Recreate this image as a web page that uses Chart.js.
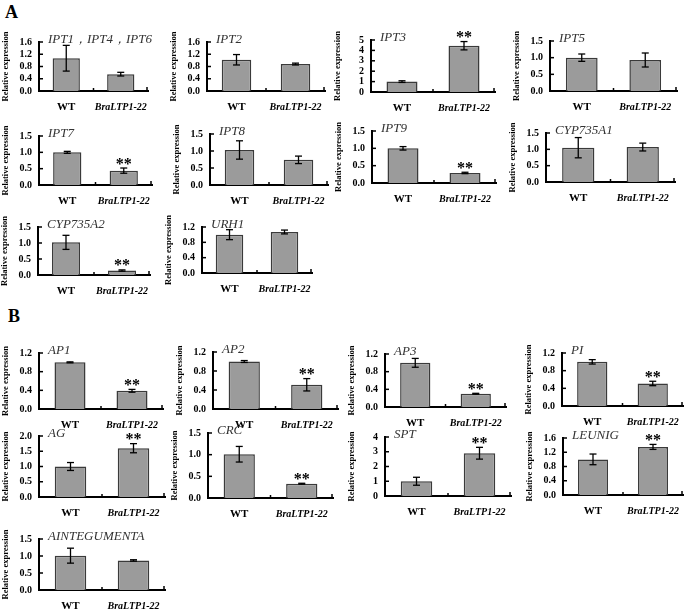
<!DOCTYPE html>
<html>
<head>
<meta charset="utf-8">
<script src="https://cdn.jsdelivr.net/npm/chart.js@4"></script>
<style>
  body { margin: 0; background: #fff; }
  #fig { position: relative; width: 687px; height: 612px; overflow: hidden; }
  #fig canvas { position: absolute; }
  .letter { position: absolute; font: bold 18px "Liberation Serif", serif; color: #000; }
</style>
</head>
<body>
<div id="fig">
  <div class="letter" style="left:5px;top:2px">A</div>
  <div class="letter" style="left:8px;top:306px">B</div>
</div>
<script>
const categories = ['WT', 'BraLTP1-22'];
const genes = ['IPT1，IPT4，IPT6', 'IPT2', 'IPT3', 'IPT5', 'IPT7', 'IPT8', 'IPT9', 'CYP735A1',
  'CYP735A2', 'URH1', 'AP1', 'AP2', 'AP3', 'PI', 'AG', 'CRC', 'SPT', 'LEUNIG', 'AINTEGUMENTA'];
const wtMeans   = [1.07, 1.02, 1.0, 1.0, 1.0, 1.03, 1.0, 1.05, 1.02, 1.0, 1.0, 1.0, 1.0, 1.0, 1.0, 1.01, 1.0, 1.0, 1.01];
const wtErrors  = [0.42, 0.17, 0.08, 0.11, 0.03, 0.27, 0.05, 0.31, 0.22, 0.13, 0.01, 0.02, 0.1, 0.05, 0.13, 0.18, 0.27, 0.15, 0.22];
const mutMeans  = [0.55, 0.88, 4.45, 0.93, 0.44, 0.74, 0.29, 1.07, 0.14, 1.07, 0.39, 0.51, 0.3, 0.51, 1.6, 0.33, 2.9, 1.35, 0.87];
const mutErrors = [0.06, 0.03, 0.4, 0.21, 0.08, 0.11, 0.02, 0.12, 0.02, 0.05, 0.03, 0.13, 0.01, 0.05, 0.15, 0.01, 0.4, 0.07, 0.02];
const significant = [false, false, true, false, true, false, true, false, true, false,
  true, true, true, true, true, true, true, true, false];
const yMaxes  = [1.6, 1.6, 5, 1.5, 1.5, 1.5, 1.5, 1.5, 1.5, 1.2, 1.2, 1.2, 1.2, 1.2, 2.0, 1.5, 4, 1.6, 1.5];
const ySteps  = [0.4, 0.4, 1, 0.5, 0.5, 0.5, 0.5, 0.5, 0.5, 0.4, 0.4, 0.4, 0.4, 0.4, 0.5, 0.5, 1, 0.4, 0.5];

// plot area of each panel: axis x, top, right end, bottom (px)
const boxes = [
  [39, 42, 148, 91], [207, 42, 325, 91], [371, 40, 495, 92], [550, 41, 677, 91],
  [39, 136, 152, 185], [210, 134, 328, 185], [372, 131, 496, 183], [546, 133, 675, 182],
  [38, 227, 150, 275], [202, 227, 312, 273],
  [39, 353, 163, 409], [213, 352, 338, 409], [385, 354, 506, 407], [562, 353, 683, 406],
  [39, 436, 165, 497], [208, 433, 333, 498], [385, 437, 511, 496], [563, 438, 683, 495],
  [39, 539, 165, 590]
];

const SERIF = '"Liberation Serif", "Times New Roman", serif';
const PAD_L = 40, PAD_T = 14, PAD_R = 6, PAD_B = 26;

const marks = {
  id: 'marks',
  afterDatasetsDraw(chart, args, o) {
    const { ctx, chartArea: a, scales: { x, y } } = chart;
    ctx.save();
    ctx.strokeStyle = '#000';
    ctx.lineWidth = 1.3;
    const seg = (x1, y1, x2, y2) => { ctx.beginPath(); ctx.moveTo(x1, y1); ctx.lineTo(x2, y2); ctx.stroke(); };
    o.means.forEach((m, i) => {
      const cx = x.getPixelForValue(i);
      const t = y.getPixelForValue(m + o.errors[i]);
      const b = y.getPixelForValue(m - o.errors[i]);
      seg(cx, t, cx, b);
      seg(cx - 3.5, t, cx + 3.5, t);
      seg(cx - 3.5, b, cx + 3.5, b);
    });
    // inward ticks
    ctx.lineWidth = 1.5;
    y.ticks.forEach((tk, i) => {
      const py = y.getPixelForTick(i);
      seg(a.left, py, a.left + 4, py);
    });
    const mid = (x.getPixelForValue(0) + x.getPixelForValue(1)) / 2;
    seg(mid, a.bottom, mid, a.bottom - 3);
    seg(a.right - 1, a.bottom, a.right - 1, a.bottom - 4);
    // gene name
    ctx.fillStyle = '#333';
    ctx.font = 'italic 13px ' + SERIF;
    ctx.textAlign = 'left';
    ctx.textBaseline = 'alphabetic';
    ctx.fillText(o.title, a.left + 9, a.top + 1);
    if (o.star) {
      const cx = x.getPixelForValue(1);
      const t = y.getPixelForValue(o.means[1] + o.errors[1]);
      ctx.fillStyle = '#000';
      ctx.font = 'bold 16px ' + SERIF;
      ctx.textAlign = 'center';
      ctx.fillText('**', cx, t + 0.5);
    }
    ctx.restore();
  }
};

const fig = document.getElementById('fig');

genes.forEach((gene, i) => {
  const [ax, top, right, bottom] = boxes[i];
  const canvas = document.createElement('canvas');
  const w = right - ax + PAD_L + PAD_R;
  const h = bottom - top + PAD_T + PAD_B;
  canvas.width = w;
  canvas.height = h;
  canvas.style.left = (ax - PAD_L) + 'px';
  canvas.style.top = (top - PAD_T) + 'px';
  canvas.style.width = w + 'px';
  canvas.style.height = h + 'px';
  fig.appendChild(canvas);

  const means = [wtMeans[i], mutMeans[i]];
  const step = ySteps[i];

  new Chart(canvas, {
    type: 'bar',
    data: {
      labels: categories,
      datasets: [{
        data: means,
        backgroundColor: '#9b9b9b',
        borderColor: '#3a3a3a',
        borderWidth: 1.5,
        borderSkipped: 'bottom',
        barPercentage: 0.5,
        categoryPercentage: 1
      }]
    },
    options: {
      responsive: false,
      animation: false,
      devicePixelRatio: 1,
      layout: { padding: { top: PAD_T, right: PAD_R, left: 0, bottom: 0 } },
      plugins: {
        legend: { display: false },
        tooltip: { enabled: false },
        marks: { means: means, errors: [wtErrors[i], mutErrors[i]], title: gene, star: significant[i] }
      },
      scales: {
        x: {
          offset: true,
          grid: { display: false, drawTicks: false },
          border: { display: true, color: '#000', width: 2 },
          ticks: {
            color: '#000',
            padding: 10,
            autoSkip: false,
            maxRotation: 0,
            font: (c) => c.index === 0
              ? { family: SERIF, size: 11, weight: 'bold' }
              : { family: SERIF, size: 10, weight: 'bold', style: 'italic' }
          },
          afterFit: (s) => { s.height = PAD_B; s.paddingLeft = 0; s.paddingRight = 0; }
        },
        y: {
          min: 0,
          max: yMaxes[i],
          grid: { display: false, drawTicks: false },
          border: { display: true, color: '#000', width: 2 },
          ticks: {
            stepSize: step,
            autoSkip: false,
            color: '#000',
            padding: 7,
            font: { family: SERIF, size: 10, weight: 'bold' },
            callback: (v) => step >= 1 ? String(v) : Number(v).toFixed(1)
          },
          title: {
            display: true,
            text: 'Relative expression',
            color: '#000',
            padding: { top: 2, bottom: 0 },
            font: { family: SERIF, size: 8.5, weight: 'bold' }
          },
          afterFit: (s) => { s.width = PAD_L; }
        }
      }
    },
    plugins: [marks]
  });
});
</script>
</body>
</html>
